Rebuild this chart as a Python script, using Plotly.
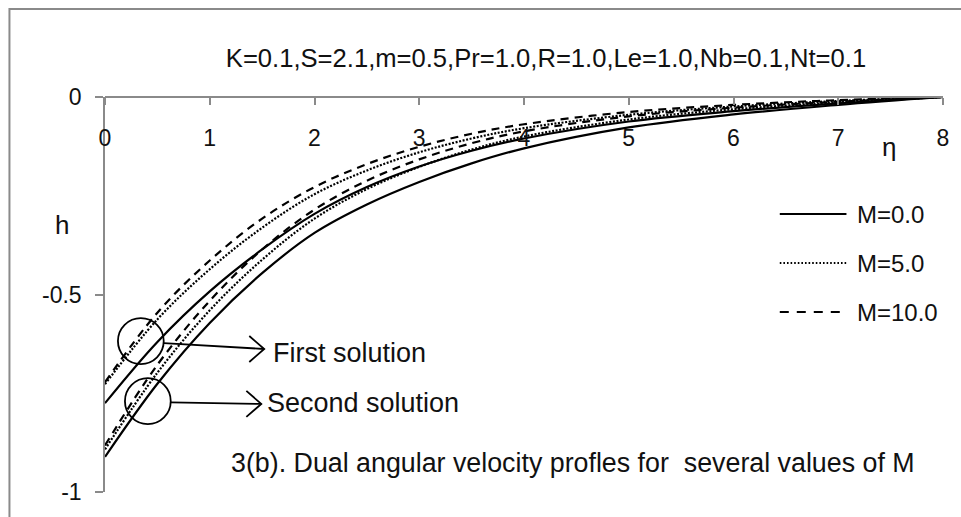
import plotly.graph_objects as go

# eta grid and the dual angular velocity profiles h(eta)
eta = [0, 0.5, 1, 1.5, 2, 2.5, 3, 3.5, 4, 5, 6, 7, 8]

# first solution branch
h_first_m0 = [-0.775, -0.620, -0.492, -0.386, -0.296, -0.228, -0.176, -0.136, -0.105, -0.062, -0.036, -0.016, 0.0]
h_first_m5 = [-0.727, -0.563, -0.436, -0.331, -0.246, -0.186, -0.140, -0.105, -0.079, -0.045, -0.024, -0.010, 0.0]
h_first_m10 = [-0.722, -0.546, -0.414, -0.308, -0.228, -0.170, -0.126, -0.093, -0.069, -0.038, -0.020, -0.008, 0.0]

# second solution branch
h_second_m0 = [-0.911, -0.726, -0.572, -0.446, -0.344, -0.272, -0.215, -0.168, -0.130, -0.077, -0.044, -0.020, 0.0]
h_second_m5 = [-0.892, -0.698, -0.540, -0.412, -0.308, -0.233, -0.177, -0.133, -0.100, -0.057, -0.031, -0.014, 0.0]
h_second_m10 = [-0.882, -0.678, -0.516, -0.386, -0.285, -0.212, -0.158, -0.117, -0.087, -0.049, -0.027, -0.012, 0.0]

series_names = ["M=0.0", "M=5.0", "M=10.0"]
x_ticks = [0, 1, 2, 3, 4, 5, 6, 7, 8]
y_ticks = [-1, -0.5, 0]
y_tick_text = ["-1", "-0.5", "0"]

title_text = "K=0.1,S=2.1,m=0.5,Pr=1.0,R=1.0,Le=1.0,Nb=0.1,Nt=0.1"
caption_text = "3(b). Dual angular velocity profles for  several values of M"

FONT = "Liberation Sans, Arial, sans-serif"
INK = "#111111"
AXIS = "#8a8a8a"

W, H = 961, 517
ML, MR, MT, MB = 105, 14, 97, 25
PLOT_W = W - ML - MR
PLOT_H = H - MT - MB
X_RANGE = [0, 8]
Y_RANGE = [-1, 0]

# data units per pixel, used to size the circles and arrowheads
UX = (X_RANGE[1] - X_RANGE[0]) / PLOT_W
UY = (Y_RANGE[1] - Y_RANGE[0]) / PLOT_H


def px_to_paper(px, py):
    return (px - ML) / PLOT_W, (MT + PLOT_H - py) / PLOT_H


styles = [
    dict(dash="solid", width=2.2),
    dict(dash="2px,1.6px", width=2.2),
    dict(dash="8px,6px", width=2.2),
]

fig = go.Figure()
first = [h_first_m0, h_first_m5, h_first_m10]
second = [h_second_m0, h_second_m5, h_second_m10]
for name, st, h1, h2 in zip(series_names, styles, first, second):
    for h in (h1, h2):
        fig.add_trace(go.Scatter(
            x=eta, y=h, mode="lines", name=name, showlegend=False,
            line=dict(color="black", width=st["width"], dash=st["dash"],
                      shape="spline", smoothing=1.0),
            hoverinfo="skip",
        ))

shapes = []
annotations = []

# outer chart frame (right and bottom edges fall outside the page)
fx0, fy1 = px_to_paper(9, 9)
shapes.append(dict(type="rect", xref="paper", yref="paper",
                   x0=fx0, x1=1.2, y0=-0.3, y1=fy1,
                   line=dict(color=AXIS, width=2), layer="below"))


# circles marking the two solution branches, with arrows to their labels
def circle(cx, cy, r_px):
    return dict(type="circle", xref="x", yref="y",
                x0=cx - r_px * UX, x1=cx + r_px * UX,
                y0=cy - r_px * UY, y1=cy + r_px * UY,
                line=dict(color="black", width=1.8))


def arrow(x0, y0, x1, y1):
    ax, ay = 15 * UX, 13 * UY
    return [
        dict(type="line", xref="x", yref="y", x0=x0, y0=y0, x1=x1, y1=y1,
             line=dict(color="black", width=1.8)),
        dict(type="path", xref="x", yref="y",
             path=f"M {x1 - ax},{y1 + ay} L {x1},{y1} L {x1 - ax},{y1 - ay}",
             line=dict(color="black", width=1.8)),
    ]


shapes.append(circle(0.342, -0.618, 23))
shapes.append(circle(0.409, -0.770, 23))
shapes += arrow(0.561, -0.623, 1.520, -0.638)
shapes += arrow(0.627, -0.773, 1.492, -0.777)

annotations.append(dict(x=1.58, y=-0.648, xref="x", yref="y", text="First solution",
                        showarrow=False, xanchor="left", yanchor="middle",
                        font=dict(size=27, color=INK, family=FONT)))
annotations.append(dict(x=1.53, y=-0.775, xref="x", yref="y", text="Second solution",
                        showarrow=False, xanchor="left", yanchor="middle",
                        font=dict(size=27, color=INK, family=FONT)))
annotations.append(dict(x=1.18, y=-0.927, xref="x", yref="y", text=caption_text,
                        showarrow=False, xanchor="left", yanchor="middle",
                        font=dict(size=26.8, color=INK, family=FONT)))

# axis titles
hx, hy = px_to_paper(62, 225)
annotations.append(dict(x=hx, y=hy, xref="paper", yref="paper", text="h",
                        showarrow=False, xanchor="center", yanchor="middle",
                        font=dict(size=26, color=INK, family=FONT)))
ex, ey = px_to_paper(893, 147)
annotations.append(dict(x=ex, y=ey, xref="paper", yref="paper", text="η",
                        showarrow=False, xanchor="center", yanchor="middle",
                        font=dict(size=26, color=INK, family=FONT)))

# legend: line sample followed by its label
LEG_X0, LEG_X1, LEG_TX = 783, 850, 859
LEG_Y = [214, 263, 312]
leg_dash = ["solid", "1.6px,2px", "9px,8px"]
for name, dsh, ly in zip(series_names, leg_dash, LEG_Y):
    lx0, yp = px_to_paper(LEG_X0, ly)
    lx1, _ = px_to_paper(LEG_X1, ly)
    tx, _ = px_to_paper(LEG_TX, ly)
    shapes.append(dict(type="line", xref="paper", yref="paper",
                       x0=lx0, x1=lx1, y0=yp, y1=yp,
                       line=dict(color="black", width=2, dash=dsh)))
    annotations.append(dict(x=tx, y=yp, xref="paper", yref="paper",
                            text=name, showarrow=False, xanchor="left", yanchor="middle",
                            font=dict(size=24, color=INK, family=FONT)))

fig.update_layout(
    width=W, height=H,
    margin=dict(l=ML, r=MR, t=MT, b=MB, pad=0),
    paper_bgcolor="white", plot_bgcolor="white",
    showlegend=False,
    title=dict(text=title_text, x=546 / W, xanchor="center",
               y=1 - 58 / H, yanchor="middle", yref="container",
               font=dict(size=25.6, color=INK, family=FONT)),
    font=dict(family=FONT, color=INK),
    shapes=shapes, annotations=annotations,
    xaxis=dict(range=X_RANGE, side="bottom", anchor="free", position=1,
               tickvals=x_ticks, ticks="outside", ticklen=7, tickwidth=1.5,
               tickcolor=AXIS, showline=True, linecolor=AXIS, linewidth=1.5,
               showgrid=False, zeroline=False, ticklabelstandoff=14,
               tickfont=dict(size=23, color=INK, family=FONT)),
    yaxis=dict(range=Y_RANGE, tickvals=y_ticks, ticktext=y_tick_text,
               ticks="outside", ticklen=8, tickwidth=1.5, tickcolor=AXIS,
               showline=True, linecolor=AXIS, linewidth=1.5,
               showgrid=False, zeroline=False, ticklabelstandoff=9,
               tickfont=dict(size=23, color=INK, family=FONT)),
)

fig.write_html("out.html")
